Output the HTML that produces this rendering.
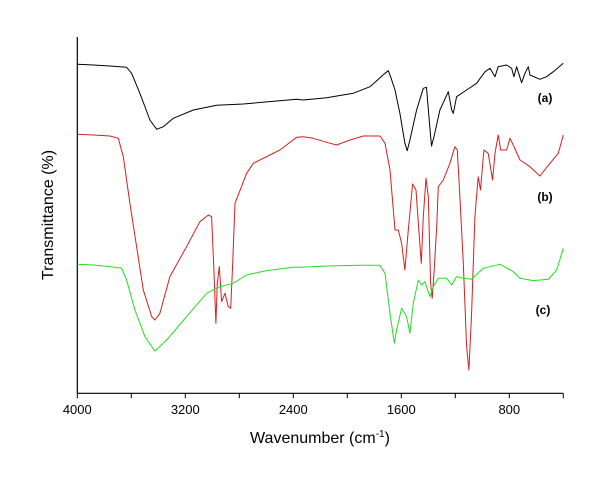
<!DOCTYPE html>
<html><head><meta charset="utf-8"><style>
html,body{margin:0;padding:0;background:#fff;}
svg{display:block;font-family:"Liberation Sans",sans-serif;}
</style></head><body>
<svg id="chart" width="600" height="490" viewBox="0 0 600 490">
<g id="axes"></g>
<g id="series"></g>
<text x="320" y="443" text-anchor="middle" font-size="16">Wavenumber (cm<tspan dy="-6" font-size="10">-1</tspan><tspan dy="6">)</tspan></text>
<text transform="translate(53,215) rotate(-90)" text-anchor="middle" font-size="16">Transmittance (%)</text>
<text x="545" y="102" text-anchor="middle" font-size="12" font-weight="bold">(a)</text>
<text x="545" y="201" text-anchor="middle" font-size="12" font-weight="bold">(b)</text>
<text x="543" y="314" text-anchor="middle" font-size="12" font-weight="bold">(c)</text>
</svg>
<script>
const xTicks=[4000,3600,3200,2800,2400,2000,1600,1200,800,400];
const xTickLabels=["4000","","3200","","2400","","1600","","800",""];
const wnA=[4000,3881,3758,3635,3598,3536,3462,3412,3363,3289,3141,2968,2770,2524,2375,2326,2153,1956,1832,1721,1696,1679,1647,1610,1573,1556,1536,1487,1437,1413,1393,1376,1358,1314,1252,1227,1215,1190,1116,1042,980,943,906,882,820,783,766,746,709,684,659,647,573,524,474,400];
const tA=[98.7,98.5,98.2,97.8,96,90,82,79.2,80,82.5,85,86.4,86.8,87.7,88.2,88,88.7,90,92,96,96.8,95,91,84,75,72.8,76,85,91.5,91.8,82,74.2,77,85,90.5,85,84,89,91,93,96.5,97.5,95,98,98.5,97.5,95,98,93.2,96,98,95.5,94.2,95,96.5,99];
const wnB=[4000,3881,3758,3696,3659,3610,3561,3511,3449,3425,3388,3314,3190,3092,3030,3005,2988,2973,2963,2948,2931,2906,2882,2864,2849,2832,2746,2696,2573,2499,2375,2326,2252,2153,2079,1980,1882,1758,1721,1684,1647,1622,1598,1573,1548,1516,1491,1467,1452,1437,1417,1400,1383,1371,1358,1338,1326,1289,1240,1203,1185,1166,1141,1116,1099,1079,1055,1030,1013,988,956,924,906,882,864,820,795,771,721,647,573,499,437,400];
const tB=[77.7,77.5,77.2,76.5,71,57,44,31,23,22,24,35,44,51.5,53.5,53,37,21,33,38,27.5,30,26,25.5,39,57,66,69,71.5,73,76.8,77,76.5,75.3,74.5,76,77.2,77.2,75,67,49,49,45,37,49,62.8,61,47,39,53,64.5,59,33,28.5,36,50,62,64,69,74,73,59,39,14,7,24,53,65,61,73,72,64,72,77.5,73,73,76.5,74.5,70,68,65.2,69,72,77.5];
const wnC=[4000,3881,3758,3672,3635,3573,3499,3425,3338,3190,3042,2943,2845,2746,2598,2400,2351,2153,1906,1758,1721,1684,1652,1635,1598,1561,1536,1511,1474,1450,1425,1388,1363,1326,1264,1227,1190,1141,1079,993,869,771,721,622,511,449,400];
const tC=[38.7,38.5,38,37.5,34,25,17,12.7,16,23,30,32,33,35.5,36.8,37.8,37.8,38.2,38.4,38.4,36,24,15,19,25.5,23,18,27,34,32.5,33.5,29,32,34.5,34.5,32.5,35,34.5,34.2,37.5,38.7,36.5,34.5,33.8,34.2,37,43.5];
const NS='http://www.w3.org/2000/svg';
const L=77.3,R=563.3,T=37,B=393.3;
function xs(w){return L+(4000-w)/3600*(R-L);}
function ys(t){return B-t*3.333;}
const axes=document.getElementById('axes');
function mk(tag,attrs,parent){const e=document.createElementNS(NS,tag);for(const k in attrs)e.setAttribute(k,attrs[k]);parent.appendChild(e);return e;}
const xa=mk('line',{x1:L,y1:B,x2:R,y2:B,stroke:'#000','stroke-width':1.2},axes);


const ya=mk('line',{x1:L,y1:T,x2:L,y2:B,stroke:'#000','stroke-width':1.2},axes);


xTicks.forEach((v,i)=>{
  const tk=mk('line',{x1:xs(v),y1:B,x2:xs(v),y2:B+5,stroke:'#000','stroke-width':1},axes);
  
  
  if(xTickLabels[i]){
    const tx=mk('text',{x:xs(v),y:414,'text-anchor':'middle','font-size':13},axes);
    tx.textContent=xTickLabels[i];
    
    
  }
});
const sg=document.getElementById('series');
function line(wn,t,color,name){
  const d=wn.map((w,i)=>(i?'L':'M')+xs(w).toFixed(1)+','+ys(t[i]).toFixed(1)).join('');
  const p=mk('path',{d:d,fill:'none',stroke:color,'stroke-width':1,'stroke-linejoin':'round'},sg);
  
  
}
line(wnA,tA,'#000','series-a');
line(wnB,tB,'#d42020','series-b');
line(wnC,tC,'#22dd22','series-c');
</script>
</body></html>
